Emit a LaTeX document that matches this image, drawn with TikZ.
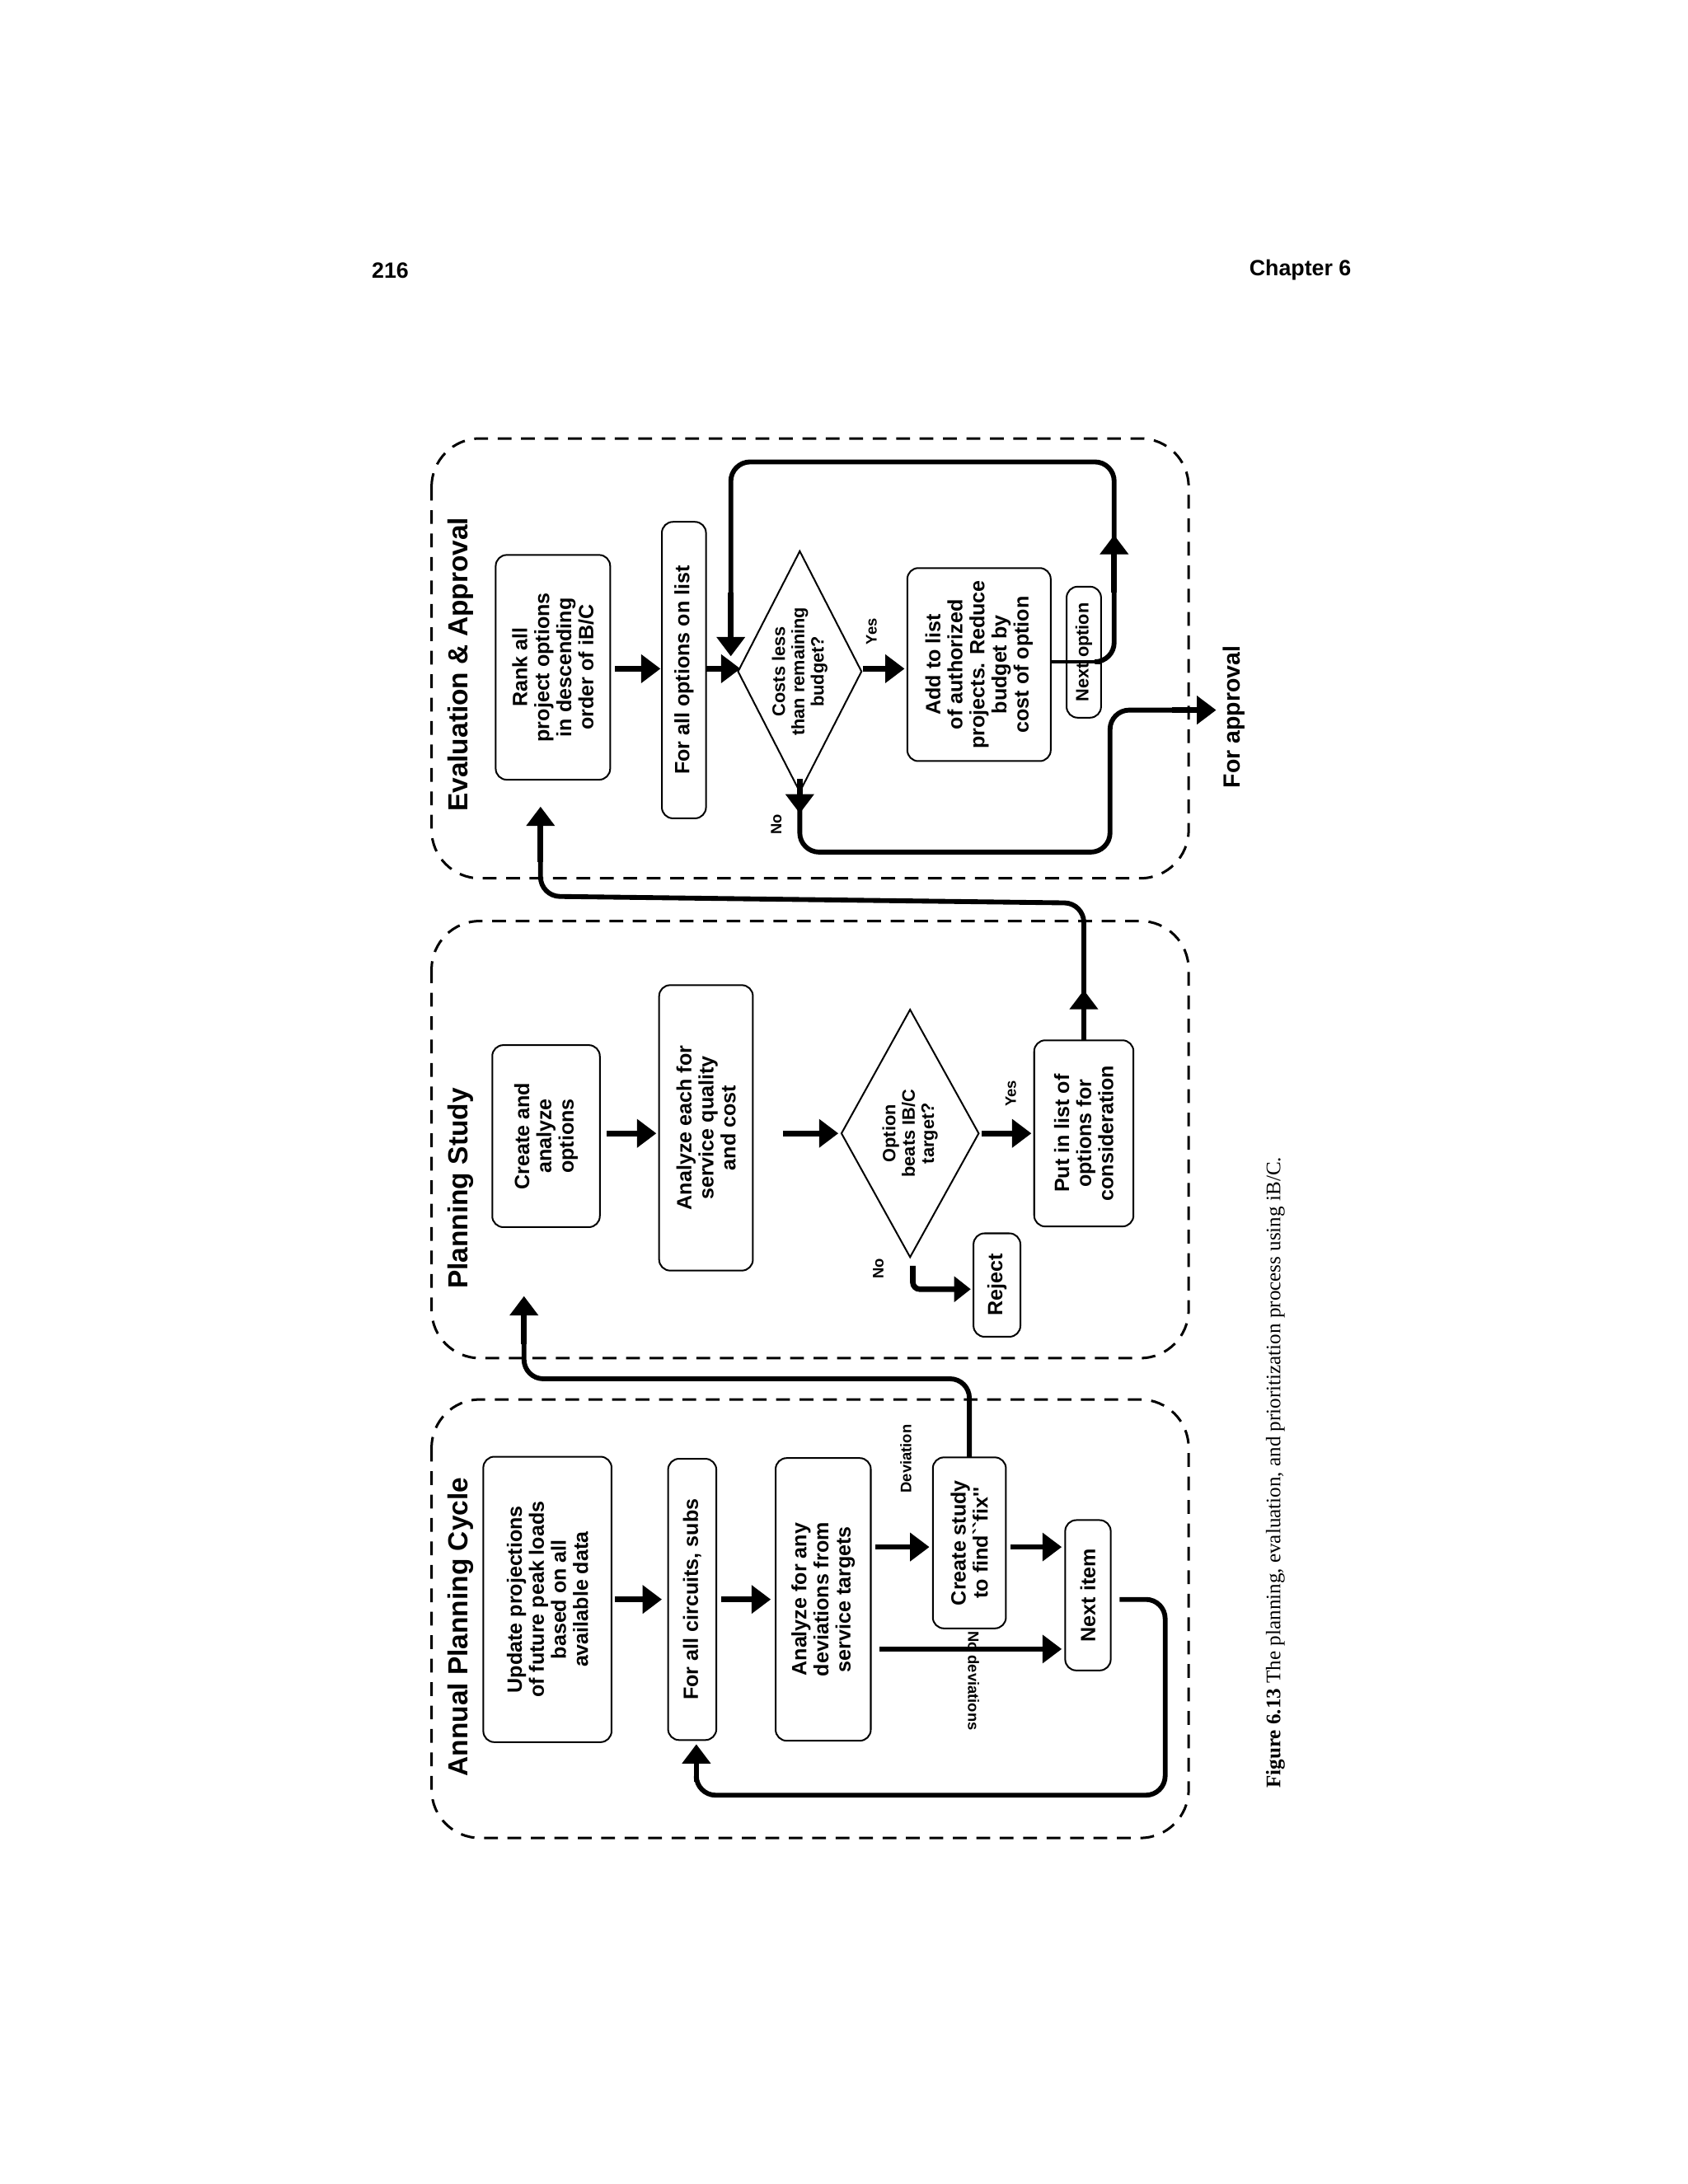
\documentclass[tikz,border=0pt]{standalone}
\usepackage{fontspec}
\setmainfont{Liberation Serif}
\newfontfamily\mysans{Liberation Sans}
\usetikzlibrary{arrows.meta,shapes.geometric}
\begin{document}
\begin{tikzpicture}[x=1pt,y=-1pt,
  box/.style={draw,line width=1.2pt,rounded corners=8pt,rotate=90,align=center,inner sep=2pt,font=\mysans\bfseries\fontsize{15}{16}\selectfont},
  lab/.style={rotate=90,font=\mysans\bfseries\fontsize{11}{12}\selectfont},
  ttl/.style={rotate=90,font=\mysans\bfseries\fontsize{20}{22}\selectfont},
  panel/.style={draw,line width=1.8pt,dash pattern=on 10pt off 7pt,rounded corners=35pt},
  blk/.style={line width=4pt,-{Triangle[length=14pt,width=20pt]}},
  flow/.style={line width=3.5pt,rounded corners=14pt},
  dia/.style={draw,line width=1.2pt,diamond,rotate=90,align=center,inner sep=0pt,font=\mysans\bfseries\fontsize{13}{14}\selectfont}]
\useasboundingbox (0,0) rectangle (1224,1584);
\node[font=\mysans\bfseries\fontsize{16}{18}\selectfont] (pg) at (283,196) {216};
\node[font=\mysans\bfseries\fontsize{16}{18}\selectfont] (ch) at (943,196) {Chapter 6};
% panels
\draw[panel] (313,1015) rectangle (862,1333);
\draw[panel] (313,668) rectangle (862,985);
\draw[panel] (313,318) rectangle (862,637);
\node[ttl] (t1) at (334,1180) {Annual Planning Cycle};
\node[ttl] (t2) at (334,862) {Planning Study};
\node[ttl] (t3) at (334,482) {Evaluation \& Approval};
% panel 1
\node[box,minimum width=207pt,minimum height=93pt] (up) at (397,1160) {Update projections\\of future peak loads\\based on all\\available data};
\node[box,minimum width=204pt,minimum height=35pt] (fa) at (502,1160) {For all circuits, subs};
\node[box,minimum width=205pt,minimum height=69pt] (an) at (597,1160) {Analyze for any\\deviations from\\service targets};
\node[box,minimum width=124pt,minimum height=53pt] (cs) at (703,1119) {Create study\\to find``fix''};
\node[box,minimum width=109pt,minimum height=33pt] (ni) at (789,1157) {Next item};
\draw[blk] (446,1160) -- (480,1160);
\draw[blk] (523,1160) -- (559,1160);
\draw[blk] (635,1122) -- (674,1122);
\node[lab] (dv) at (657,1058) {Deviation};
\draw[blk] (733,1122) -- (770,1122);
\draw[blk] (638,1196) -- (770,1196);
\node[lab,rotate=180] (nd) at (706,1219) {No deviations};
\draw[flow] (812,1160) -- (845,1160) -- (845,1302) -- (505,1302) -- (505,1290);
\draw[blk] (505,1292) -- (505,1265);
\draw[flow] (703,1057) -- (703,1000) -- (380,1000) -- (380,970);
\draw[blk] (380,975) -- (380,940);
% panel 2
\node[box,minimum width=132pt,minimum height=78pt] (ca) at (396,824) {Create and\\analyze\\options};
\node[box,minimum width=207pt,minimum height=68pt] (ae) at (512,818) {Analyze each for\\service quality\\and cost};
\node[dia,minimum width=180pt,minimum height=100pt,aspect=1.8] (ob) at (660,822) {Option\\beats IB/C\\target?};
\node[box,minimum width=75pt,minimum height=34pt] (rj) at (723,932) {Reject};
\node[box,minimum width=135pt,minimum height=72pt] (pl) at (786,822) {Put in list of\\options for\\consideration};
\draw[blk] (440,822) -- (476,822);
\draw[blk] (568,822) -- (608,822);
\draw[blk] (712,822) -- (748,822);
\node[lab] (y2) at (733,793) {Yes};
\node[lab] (n2) at (637,920) {No};
\draw[line width=4pt,rounded corners=5pt,-{Triangle[length=12pt,width=18pt]}] (662,918) -- (662,935) -- (704,935);
\draw[blk] (786,755) -- (786,718);
\draw[flow] (786,725) -- (786,655) -- (392,650) -- (392,620);
\draw[blk] (392,625) -- (392,585);
% panel 3
\node[box,minimum width=163pt,minimum height=83pt] (rk) at (401,484) {Rank all\\project options\\in descending\\order of iB/C};
\node[box,minimum width=215pt,minimum height=32pt] (fo) at (496,486) {For all options on list};
\node[dia,minimum width=175pt,minimum height=90pt,aspect=1.9] (cl) at (580,487) {Costs less\\than remaining\\budget?};
\node[box,minimum width=140pt,minimum height=104pt] (ad) at (710,482) {Add to list\\of authorized\\projects. Reduce\\budget by\\cost of option};
\node[box,minimum width=95pt,minimum height=25pt,font=\mysans\bfseries\fontsize{13}{14}\selectfont] (no) at (786,473) {Next option};
\draw[blk] (446,485) -- (479,485);
\draw[blk] (512,485) -- (537,485);
\draw[blk] (626,485) -- (656,485);
\node[lab] (y3) at (632,458) {Yes};
\node[lab] (n3) at (563,598) {No};
\draw[line width=2pt] (762,480) -- (799,480);
\draw[flow] (799,480) -- (808,480) -- (808,335) -- (530,335) -- (530,440);
\draw[blk] (808,430) -- (808,388);
\draw[blk] (530,430) -- (530,476);
\draw[blk] (580,565) -- (580,590);
\draw[flow] (580,585) -- (580,618) -- (805,618) -- (805,515) -- (860,515);
\draw[blk] (850,515) -- (882,515);
\node[ttl,font=\mysans\bfseries\fontsize{17}{19}\selectfont] (fp) at (895,520) {For approval};
\node[rotate=90,font=\fontsize{15}{17}\selectfont] (cap) at (925,1068) {\textbf{Figure 6.13} The planning, evaluation, and prioritization process using iB/C.};
\end{tikzpicture}
\end{document}
